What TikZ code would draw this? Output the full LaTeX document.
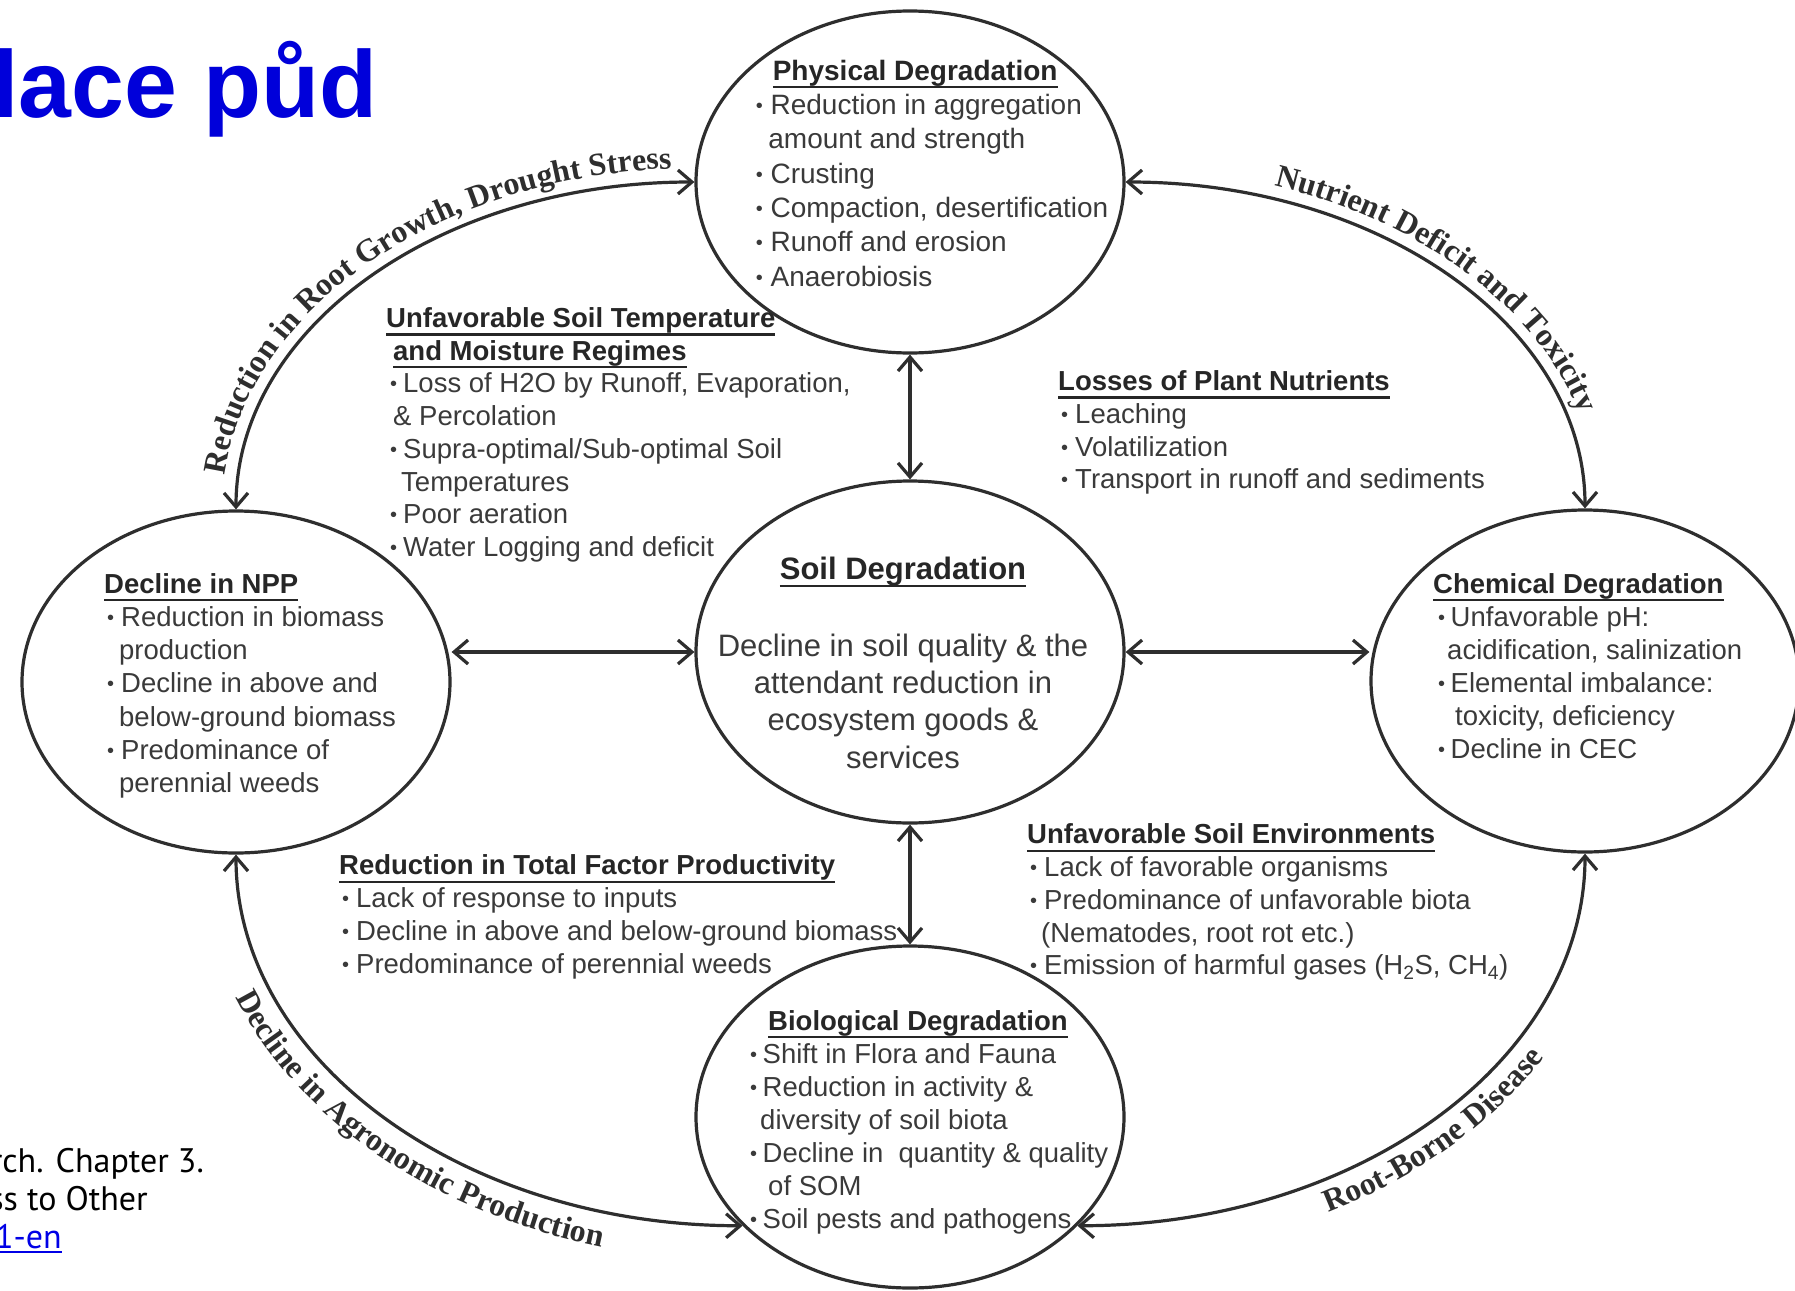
\documentclass[tikz,border=0pt]{standalone}
\usepackage{fontspec}
\setmainfont{Liberation Sans}
\newfontfamily\arcfam{Liberation Serif}
\newfontfamily\capfam{PT Sans}
\usetikzlibrary{arrows.meta,shapes.geometric,decorations.text}
\definecolor{ln}{HTML}{2E2E2E}
\definecolor{tx}{HTML}{3A3A3A}
\definecolor{hd}{HTML}{262626}
\definecolor{ttl}{RGB}{0,0,218}
\definecolor{lnk}{RGB}{0,0,230}
\newcommand\hul[1]{\begingroup\setbox0=\hbox{#1}\rlap{\rule[-8pt]{\wd0}{2.2pt}}\box0\endgroup}
\newcommand\lul[1]{\begingroup\setbox0=\hbox{#1}\rlap{\rule[-5pt]{\wd0}{2pt}}\box0\endgroup}
\newcommand\bu[1]{\makebox[#1][l]{\raisebox{2pt}{\fontsize{20}{20}\selectfont •}}}
\newcommand\arcfont{\arcfam\bfseries\fontsize{32}{32}\selectfont}
\tikzset{
  ell/.style={ellipse, draw=ln, line width=3.2pt, inner sep=0pt, minimum width=428pt, minimum height=342pt},
  arr/.style={draw=ln, line width=3.2pt, >={Straight Barb[length=14pt,width=24pt,line width=3.2pt]}, <->},
  blk/.style={anchor=north west, inner sep=0pt, align=left, text=tx},
}
\begin{document}
\begin{tikzpicture}[x=1pt,y=-1pt]
\fill[white] (0,0) rectangle (1795,1290);
\useasboundingbox (0,0) rectangle (1795,1290);

% ellipses
\node[ell] (phys) at (910,182) {};
\node[ell] (soil) at (910,652) {};
\node[ell] (npp)  at (236,682) {};
\node[ell] (chem) at (1585,681) {};
\node[ell] (bio)  at (910,1117) {};

% straight arrows
\draw[arr] (phys.south) -- (soil.north);
\draw[arr] (soil.south) -- (bio.north);
\draw[arr] (npp.east |- soil.west) -- (soil.west);
\draw[arr] (soil.east) -- (chem.west |- soil.east);

% curved arrows
\draw[arr] (npp.north) .. controls +(0,-182) and +(-254,0) .. (phys.west);
\draw[arr] (phys.east) .. controls +(255,0) and +(0,-181) .. (chem.north);
\draw[arr] (npp.south) .. controls +(0,205) and +(-280,0) .. (bio.213);
\draw[arr] (bio.-33) .. controls +(281,0) and +(0,206) .. (chem.south);

% arc labels
\coordinate (t1s) at (222,511);  \coordinate (t1e) at (697.5,168);
\coordinate (t2s) at (1123.5,168); \coordinate (t2e) at (1599,510);
\coordinate (t3s) at (200,853);  \coordinate (t3e) at (744,1261);
\coordinate (t4s) at (1076,1259); \coordinate (t4e) at (1619,852);
\path[decoration={text along path, text={|\arcfont\color{ln}|Reduction in Root Growth, Drought Stress}, text align={left indent=36pt}}, decorate]
  (t1s) .. controls +(0,-189) and +(-262.5,0) .. (t1e);
\path[decoration={text along path, text={|\arcfont\color{ln}|Nutrient Deficit and Toxicity}, text align={left indent=152pt}}, decorate]
  (t2s) .. controls +(262.5,0) and +(0,-189) .. (t2e);
\path[decoration={text along path, text={|\arcfont\color{ln}|Decline in Agronomic Production}, text align={left indent=150pt}}, decorate]
  (t3s) .. controls +(0,225) and +(-300,0) .. (t3e);
\path[decoration={text along path, text={|\arcfont\color{ln}|Root-Borne Disease}, text align={left indent=258pt}}, decorate]
  (t4s) .. controls +(300,0) and +(0,224.6) .. (t4e);

% title and caption fragments
\node[anchor=base east, inner sep=0pt, font=\fontsize{95}{95}\selectfont\bfseries, text=ttl] (title) at (378,117) {lace půd};
\node[anchor=base east, inner sep=0pt, font=\capfam\fontsize{34}{34}\selectfont, text=black] (cap1) at (204,1172) {rch. Chapter 3.};
\node[anchor=base east, inner sep=0pt, font=\capfam\fontsize{34}{34}\selectfont, text=black] (cap2) at (148,1210) {ss to Other};
\node[anchor=base east, inner sep=0pt, font=\capfam\fontsize{34}{34}\selectfont, text=lnk] (cap3) at (62,1248) {\lul{1-en}};

% text blocks
\node[blk, font=\fontsize{28}{34.3}\selectfont] (physT) at (755.6,56.1) {\strut\hspace*{17pt}{\color{hd}\hul{\bfseries Physical Degradation}}\\
\bu{14.8pt}Reduction in aggregation\\
\hspace*{12.6pt}amount and strength\\
\bu{14.8pt}Crusting\\
\bu{14.8pt}Compaction, desertification\\
\bu{14.8pt}Runoff and erosion\\
\bu{14.8pt}Anaerobiosis};

\node[blk, font=\fontsize{27.5}{33.2}\selectfont] (nppT) at (104,569.8) {\strut{\color{hd}\hul{\bfseries Decline in NPP}}\\
\hspace*{3pt}\bu{14pt}Reduction in biomass\\
\hspace*{15pt}production\\
\hspace*{3pt}\bu{14pt}Decline in above and\\
\hspace*{15pt}below-ground biomass\\
\hspace*{3pt}\bu{14pt}Predominance of\\
\hspace*{15pt}perennial weeds};

\node[blk, font=\fontsize{27.5}{33}\selectfont] (chemT) at (1433,569.9) {\strut{\color{hd}\hul{\bfseries Chemical Degradation}}\\
\hspace*{5pt}\bu{12.5pt}Unfavorable pH:\\
\hspace*{14pt}acidification, salinization\\
\hspace*{5pt}\bu{12.5pt}Elemental imbalance:\\
\hspace*{22pt}toxicity, deficiency\\
\hspace*{5pt}\bu{12.5pt}Decline in CEC};

\node[blk, font=\fontsize{27.5}{33}\selectfont] (bioT) at (750,1006.9) {\strut\hspace*{18pt}{\color{hd}\hul{\bfseries Biological Degradation}}\\
\bu{12.5pt}Shift in Flora and Fauna\\
\bu{12.5pt}Reduction in activity \&\\
\hspace*{10pt}diversity of soil biota\\
\bu{12.5pt}Decline in\ \ quantity \& quality\\
\hspace*{18pt}of SOM\\
\bu{12.5pt}Soil pests and pathogens};

\node[blk, font=\fontsize{27.5}{32.7}\selectfont] (tempT) at (386,304.5) {\strut{\color{hd}\hul{\bfseries Unfavorable Soil Temperature}}\\
\hspace*{7pt}{\color{hd}\hul{\bfseries and Moisture Regimes}}\\
\hspace*{4pt}\bu{13pt}Loss of H2O by Runoff, Evaporation,\\
\hspace*{7pt}\& Percolation\\
\hspace*{4pt}\bu{13pt}Supra-optimal/Sub-optimal Soil\\
\hspace*{15pt}Temperatures\\
\hspace*{4pt}\bu{13pt}Poor aeration\\
\hspace*{4pt}\bu{13pt}Water Logging and deficit};

\node[blk, font=\fontsize{27.5}{32.8}\selectfont] (lossT) at (1058,367.4) {\strut{\color{hd}\hul{\bfseries Losses of Plant Nutrients}}\\
\hspace*{3pt}\bu{14pt}Leaching\\
\hspace*{3pt}\bu{14pt}Volatilization\\
\hspace*{3pt}\bu{14pt}Transport in runoff and sediments};

\node[blk, font=\fontsize{27.5}{32.8}\selectfont] (tfpT) at (339,851.6) {\strut{\color{hd}\hul{\bfseries Reduction in Total Factor Productivity}}\\
\hspace*{3pt}\bu{14pt}Lack of response to inputs\\
\hspace*{3pt}\bu{14pt}Decline in above and below-ground biomass\\
\hspace*{3pt}\bu{14pt}Predominance of perennial weeds};

\node[blk, font=\fontsize{27.5}{32.7}\selectfont] (envT) at (1027,820.8) {\strut{\color{hd}\hul{\bfseries Unfavorable Soil Environments}}\\
\hspace*{3pt}\bu{14pt}Lack of favorable organisms\\
\hspace*{3pt}\bu{14pt}Predominance of unfavorable biota\\
\hspace*{14pt}(Nematodes, root rot etc.)\\
\hspace*{3pt}\bu{14pt}Emission of harmful gases (H\textsubscript{2}S, CH\textsubscript{4})};

\node[anchor=base, inner sep=0pt, text=hd, font=\fontsize{31}{37}\selectfont\bfseries] (soilH) at (903,579) {\hul{Soil Degradation}};
\node[anchor=north, inner sep=0pt, align=center, text=tx, font=\fontsize{31}{37.3}\selectfont] (soilT) at (903,629.9) {\strut Decline in soil quality \& the\\attendant reduction in\\ecosystem goods \&\\services};
\end{tikzpicture}
\end{document}
